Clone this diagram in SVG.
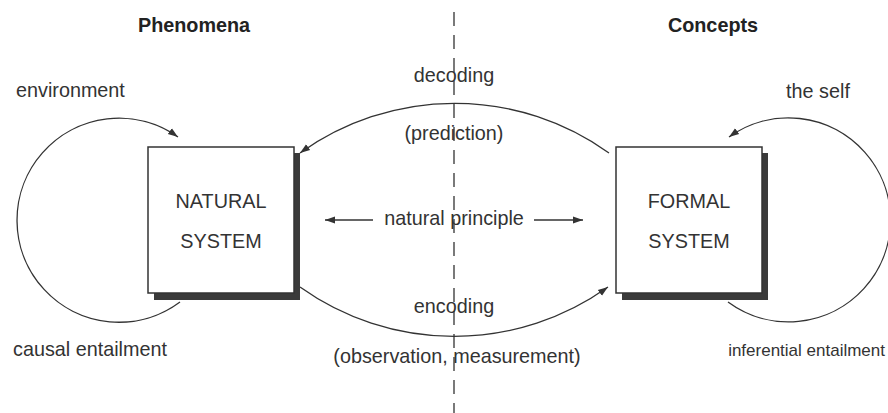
<svg xmlns="http://www.w3.org/2000/svg" width="888" height="413" viewBox="0 0 888 413">
<defs>
<style>
text{font-family:"Liberation Sans",Arial,sans-serif;font-size:19.8px;fill:#333;}
.b{font-weight:bold;fill:#222;}
.m{text-anchor:middle;}
.ln{fill:none;stroke:#333;stroke-width:1.3;}
.box{fill:#fff;stroke:#333;stroke-width:1.5;}
.sh{fill:#3a3a3a;}
</style>
<marker id="ah" viewBox="0 0 10 10" refX="10" refY="5" markerWidth="10" markerHeight="10" markerUnits="userSpaceOnUse" orient="auto">
<path d="M0,1.5 L10,5 L0,8.5 Z" fill="#333"/>
</marker>
</defs>
<rect width="888" height="413" fill="#fff"/>
<line x1="454" y1="12" x2="454" y2="413" stroke="#333" stroke-width="1.3" stroke-dasharray="14 9"/>
<text class="b m" x="194" y="32">Phenomena</text>
<text class="b m" x="713" y="32">Concepts</text>
<g id="connectors">
<path class="ln" marker-end="url(#ah)" d="M180,302 A102,102 0 1 1 178,137"/>
<path class="ln" marker-end="url(#ah)" d="M728,302 A102,102 0 1 0 729,137"/>
<path class="ln" marker-end="url(#ah)" d="M609,153 A265,265 0 0 0 300,153"/>
<path class="ln" marker-end="url(#ah)" d="M300,287 A265,265 0 0 0 608,287"/>
<line class="ln" marker-end="url(#ah)" x1="373" y1="220" x2="325" y2="220"/>
<line class="ln" marker-end="url(#ah)" x1="534" y1="220" x2="583" y2="220"/>
</g>
<g id="natural">
<rect class="sh" x="154" y="153" width="146" height="147"/>
<rect class="box" x="148" y="147" width="146" height="146"/>
<text class="m" x="221" y="208">NATURAL</text>
<text class="m" x="221" y="248">SYSTEM</text>
</g>
<g id="formal">
<rect class="sh" x="622" y="153" width="146" height="147"/>
<rect class="box" x="616" y="147" width="146" height="146"/>
<text class="m" x="689" y="208">FORMAL</text>
<text class="m" x="689" y="248">SYSTEM</text>
</g>
<g id="labels">
<text x="16" y="97">environment</text>
<text class="m" x="818" y="98">the self</text>
<text x="13" y="356">causal entailment</text>
<text x="885" y="356" style="font-size:17px;text-anchor:end">inferential entailment</text>
<text class="m" x="454" y="82">decoding</text>
<text class="m" x="454" y="140">(prediction)</text>
<text class="m" x="454" y="225">natural principle</text>
<text class="m" x="454" y="313">encoding</text>
<text class="m" x="457" y="363">(observation, measurement)</text>
</g>
</svg>
